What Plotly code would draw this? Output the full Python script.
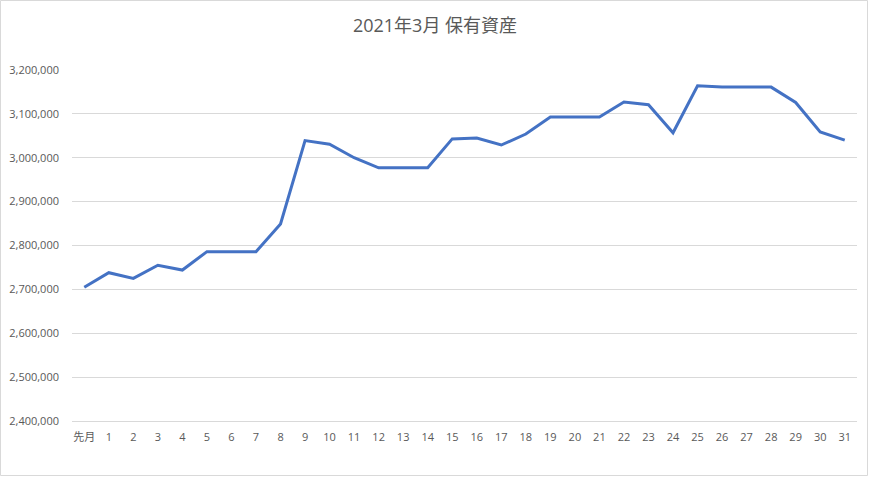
import plotly.graph_objects as go

# categories and values
days = ["先月"] + [str(d) for d in range(1, 32)]
assets = [
    2705000, 2738000, 2725000, 2755000, 2744000, 2786000, 2786000, 2786000,
    2849000, 3039000, 3031000, 3000000, 2977000, 2977000, 2977000, 3043000,
    3045000, 3029000, 3054000, 3093000, 3093000, 3093000, 3127000, 3121000,
    3057000, 3164000, 3161000, 3161000, 3161000, 3126000, 3059000, 3040000,
]
y_ticks = [2400000, 2500000, 2600000, 2700000, 2800000, 2900000, 3000000, 3100000, 3200000]

TEXT = "#595959"
GRID = "#D9D9D9"
FONT = "Open Sans, Noto Sans CJK JP, sans-serif"

fig = go.Figure()
fig.add_trace(go.Scatter(
    x=days, y=assets, mode="lines",
    line=dict(color="#4472C4", width=3),
    hoverinfo="x+y",
))

# margins of the plot area (pixels)
W, H = 870, 477
ml, mr, mt, mb = 72, 13, 70, 56

fig.update_layout(
    width=W, height=H,
    margin=dict(l=ml, r=mr, t=mt, b=mb, autoexpand=False),
    paper_bgcolor="white", plot_bgcolor="white",
    showlegend=False,
    font=dict(family=FONT, color=TEXT, size=11),
    title=dict(
        text="2021年3月 保有資産",
        x=0.5, xanchor="center", y=1 - 26 / H, yanchor="middle",
        font=dict(family=FONT, size=18, color=TEXT),
    ),
)

fig.update_xaxes(
    type="category",
    automargin=False,
    showgrid=False,
    showline=True, linecolor=GRID, linewidth=1,
    ticks="", ticklabelstandoff=6,
    tickfont=dict(size=11, color=TEXT),
    range=[-0.5, len(days) - 0.5],
)
fig.update_yaxes(
    range=[2400000, 3200000],
    automargin=False,
    tickvals=y_ticks,
    tickformat=",d",
    showgrid=True, gridcolor=GRID, gridwidth=1,
    zeroline=False,
    ticks="", ticklabelstandoff=12,
    tickfont=dict(size=11, color=TEXT),
)

# light border round the whole chart
pw = W - ml - mr
ph = H - mt - mb
fig.add_shape(
    type="rect", xref="paper", yref="paper",
    x0=(0.5 - ml) / pw, x1=(W - 2.5 - ml) / pw,
    y0=(1.5 - mb) / ph, y1=(H - 0.5 - mb) / ph,
    line=dict(color=GRID, width=1),
    layer="below",
)

# drop the browser's default body margin so the chart sits at 0,0
fig.write_html(
    "out.html",
    config={"displayModeBar": False},
    post_script="document.body.style.margin='0';",
)
